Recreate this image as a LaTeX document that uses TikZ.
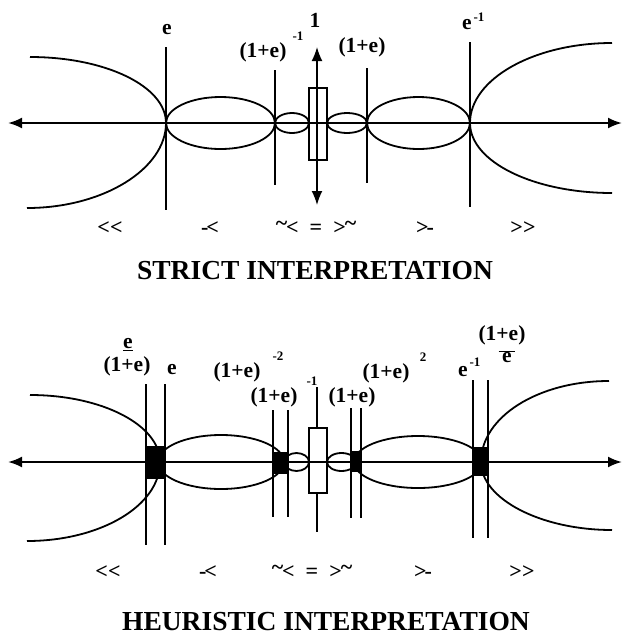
\documentclass[tikz,border=0pt]{standalone}
\usepackage{fontspec}
\setmainfont{Liberation Serif}
\usetikzlibrary{arrows.meta}

\tikzset{
  axis/.style={line width=2.2pt,{Latex[length=14pt,width=11pt]}-{Latex[length=14pt,width=11pt]}},
  curve/.style={line width=1.8pt},
  cutline/.style={line width=1.6pt},
  lbl/.style={font=\bfseries\fontsize{21.5}{23}\selectfont,inner sep=0pt},
  expo/.style={font=\bfseries\fontsize{13}{14}\selectfont,inner sep=0pt},
  rel/.style={font=\bfseries\fontsize{22}{24}\selectfont,inner sep=0pt},
  ttl/.style={font=\bfseries\fontsize{27.5}{30}\selectfont,inner sep=0pt},
  blob/.style={fill=black}
}
\newcommand{\tld}{\raisebox{4pt}{\textasciitilde}}

\begin{document}
\begin{tikzpicture}[x=1pt,y=-1pt]
        \useasboundingbox (0,0) rectangle (623,641);

        % ===== strict interpretation =====
        \coordinate (sL) at (8,123);
        \coordinate (sR) at (622,123);
        \draw[axis] (sL) -- (sR);

        % cut lines
        \foreach \x/\ya/\yb in {166/47/210, 275/70/185, 367/68/183, 470/42/207} {
                \draw[cutline] (\x,\ya) -- (\x,\yb);
            }

        % loops between the cuts
        \foreach \a/\b/\r in {166/275/26, 275/309/10, 327/367/10, 367/470/26} {
                \draw[curve] ({(\a+\b)/2},123) ellipse [x radius={(\b-\a)/2}, y radius=\r];
            }

        % outer branches
        \draw[curve] (30,57) .. controls (105,57) and (166,86) .. (166,123)
                .. controls (166,169) and (103,208) .. (27,208);
        \draw[curve] (612,43) .. controls (534,43) and (470,79) .. (470,123)
                .. controls (470,162) and (534,193) .. (612,193);

        % the unit interval
        \coordinate (sUp) at (317,47);
        \coordinate (sDn) at (317,205);
        \draw[line width=1.6pt,{Latex[length=14pt,width=11pt]}-{Latex[length=14pt,width=11pt]}] (sUp) -- (sDn);
        \draw[line width=1.3pt] (309,88) rectangle (327,160);

        % labels
        \node[lbl] (sE) at (167,30) {e};
        \node[lbl] (sA) at (263,52) {(1+e)};
        \node[expo] (sAx) at (298,36) {-1};
        \node[lbl] (sOne) at (315,20) {1};
        \node[lbl] (sB) at (362,47) {(1+e)};
        \node[lbl] (sEi) at (467,25) {e};
        \node[expo] (sEix) at (479,17) {-1};

        \node[rel] (sR1) at (110,228) {<{}<};
        \node[rel] (sR2) at (210,228) {-\kern-2pt<};
        \node[rel] (sR3) at (316,228) {\tld\kern-1pt<\hspace{11pt}=\hspace{11pt}>\kern-1pt\tld};
        \node[rel] (sR4) at (425,228) {>\kern-2pt-};
        \node[rel] (sR5) at (523,228) {>{}>};

        \node[ttl] (sT) at (315,271) {STRICT INTERPRETATION};

        % ===== heuristic interpretation =====
        \coordinate (hL) at (8,462);
        \coordinate (hR) at (622,462);

        % fuzzy zones
        \foreach \a/\b/\ya/\yb in {146/165/446/479, 273/288/452/474, 351/361/451/472, 473/488/447/476} {
                \fill[blob] (\a,\ya) rectangle (\b,\yb);
            }

        \draw[axis] (hL) -- (hR);

        % cut lines
        \foreach \x/\ya/\yb in {146/384/545, 165/384/545, 273/410/517, 288/410/517,
                                351/408/518, 361/408/518, 473/380/538, 488/380/538} {
                \draw[cutline] (\x,\ya) -- (\x,\yb);
            }

        % loops
        \foreach \a/\b/\r in {158/284/27, 284/309/9, 327/356/9, 354/482/26} {
                \draw[curve] ({(\a+\b)/2},462) ellipse [x radius={(\b-\a)/2}, y radius=\r];
            }

        % outer branches
        \draw[curve] (30,395) .. controls (102,395) and (160,425) .. (160,462)
                .. controls (160,506) and (100,541) .. (27,541);
        \draw[curve] (609,381) .. controls (538,381) and (481,417) .. (481,462)
                .. controls (481,499) and (541,530) .. (612,530);

        % the unit interval
        \draw[cutline] (317,387) -- (317,532);
        \draw[line width=1.3pt,fill=white] (309,428) rectangle (327,493);
        \draw[line width=1.3pt] (309,462) -- (327,462);

        % labels
        \node[lbl] (hFn) at (128,345) {\underline{e}};
        \node[lbl] (hFd) at (127,366) {(1+e)};
        \node[lbl] (hE) at (172,370) {e};
        \node[lbl] (hA) at (237,372) {(1+e)};
        \node[expo] (hAx) at (278,356) {-2};
        \node[lbl] (hB) at (274,397) {(1+e)};
        \node[expo] (hBx) at (312,381) {-1};
        \node[lbl] (hC) at (352,397) {(1+e)};
        \node[lbl] (hD) at (386,373) {(1+e)};
        \node[expo] (hDx) at (423,357) {2};
        \node[lbl] (hEi) at (463,372) {e};
        \node[expo] (hEix) at (475,362) {-1};
        \node[lbl] (hGn) at (502,335) {(1+e)};
        \node[lbl] (hGd) at (507,357) {$\overline{\hbox{\,e\,}}$};

        \node[rel] (hR1) at (108,572) {<{}<};
        \node[rel] (hR2) at (208,572) {-\kern-2pt<};
        \node[rel] (hR3) at (312,572) {\tld\kern-1pt<\hspace{11pt}=\hspace{11pt}>\kern-1pt\tld};
        \node[rel] (hR4) at (423,572) {>\kern-2pt-};
        \node[rel] (hR5) at (522,572) {>{}>};

        \node[ttl] (hT) at (326,622) {HEURISTIC INTERPRETATION};
    \end{tikzpicture}
\end{document}
